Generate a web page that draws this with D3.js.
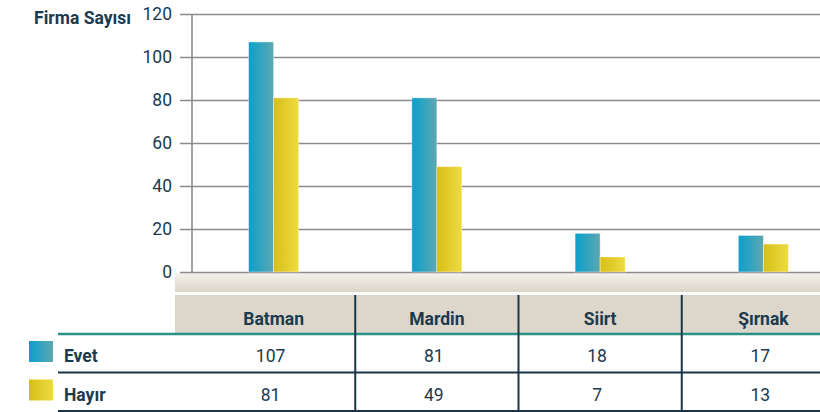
<!DOCTYPE html>
<html>
<head>
<meta charset="utf-8">
<script src="https://cdn.jsdelivr.net/npm/d3@7"></script>
<style>
  body { margin: 0; background: #fff; }
  svg text { font-family: Roboto, "Liberation Sans", sans-serif; fill: #1c3a4e; }
</style>
</head>
<body>
<svg id="chart" width="820" height="412"></svg>
<script>
// data
var categories = ["Batman", "Mardin", "Siirt", "Şırnak"];
var series = ["Evet", "Hayır"];
var evet = [107, 81, 18, 17];
var hayir = [81, 49, 7, 13];
var yTicks = [0, 20, 40, 60, 80, 100, 120];

var values = [evet, hayir];
var svg = d3.select("#chart");

// layout
var plotLeft = 192, plotRight = 845;
var y = d3.scaleLinear().domain([0, 120]).range([272, 14]);
var x0 = d3.scaleBand().domain(categories).range([plotLeft, plotRight]);
var x1 = d3.scaleBand().domain(series).range([0, x0.bandwidth()]).paddingInner(0).paddingOuter(2.26);

var defs = svg.append("defs");
function grad(id, c1, c2) {
  var g = defs.append("linearGradient").attr("id", id)
      .attr("x1", "0%").attr("x2", "100%").attr("y1", "0%").attr("y2", "0%");
  g.append("stop").attr("offset", "0%").attr("stop-color", c1);
  g.append("stop").attr("offset", "100%").attr("stop-color", c2);
}
grad("gEvet", "#0aa0cc", "#5ea7b2");
grad("gHayir", "#d6bf16", "#eedb42");
var floor = defs.append("linearGradient").attr("id", "gFloor")
    .attr("x1", "0%").attr("x2", "0%").attr("y1", "0%").attr("y2", "100%");
floor.append("stop").attr("offset", "0%").attr("stop-color", "#f4f2ec");
floor.append("stop").attr("offset", "100%").attr("stop-color", "#dcd5c9");
var fills = {"Evet": "url(#gEvet)", "Hayır": "url(#gHayir)"};

// floor under the plot
svg.append("rect")
    .attr("x", 175).attr("y", y(0) + 1)
    .attr("width", 820 - 175).attr("height", 19)
    .attr("fill", "url(#gFloor)");

// grid + ticks
var yAxis = d3.axisLeft(y).tickValues(yTicks).tickSize(-(plotRight - 180)).tickPadding(8);
var ax = svg.append("g")
    .attr("transform", "translate(180,0)")
    .call(yAxis);
ax.select(".domain").remove();
ax.selectAll(".tick line").attr("stroke", "#8c8c8c").attr("stroke-width", 1.6);
ax.selectAll(".tick text")
    .attr("font-size", 17.5)
    .style("font-family", "Roboto, sans-serif")
    .attr("fill", "#1c3a4e");

// vertical axis line
svg.append("line")
    .attr("x1", plotLeft).attr("x2", plotLeft)
    .attr("y1", y(120)).attr("y2", y(0))
    .attr("stroke", "#8c8c8c").attr("stroke-width", 1.6);

// axis title
svg.append("text")
    .attr("x", 131).attr("y", 24)
    .attr("text-anchor", "end")
    .attr("font-size", 17.5).attr("font-weight", "bold")
    .text("Firma Sayısı");

// bars
var groups = svg.append("g").selectAll("g")
    .data(categories)
    .join("g")
    .attr("transform", function(d) { return "translate(" + x0(d) + ",0)"; });

groups.selectAll("rect")
    .data(function(d, i) { return series.map(function(s, j) { return {s: s, v: values[j][i]}; }); })
    .join("rect")
    .attr("x", function(d) { return x1(d.s); })
    .attr("y", function(d) { return y(d.v); })
    .attr("width", x1.bandwidth())
    .attr("height", function(d) { return y(0) - y(d.v); })
    .attr("fill", function(d) { return fills[d.s]; })
    .attr("stroke", "rgba(255,255,255,0.5)")
    .attr("stroke-width", 0.8);

// data table
var headTop = 295, headBot = 333, rowH = 38.5;
svg.append("rect")
    .attr("x", 175).attr("y", headTop)
    .attr("width", 820 - 175).attr("height", headBot - headTop)
    .attr("fill", "#ddd6cb");

svg.append("g").selectAll("text")
    .data(categories)
    .join("text")
    .attr("x", function(d) { return x0(d) + x0.bandwidth() / 2; })
    .attr("y", 325)
    .attr("text-anchor", "middle")
    .attr("font-size", 17.5).attr("font-weight", "bold")
    .text(function(d) { return d; });

// teal line under header
svg.append("line")
    .attr("x1", 58).attr("x2", 820)
    .attr("y1", headBot + 1).attr("y2", headBot + 1)
    .attr("stroke", "#2a9284").attr("stroke-width", 2.4);

// row lines
[0, 1].forEach(function(j) {
  var yl = headBot + 1 + rowH * (j + 1);
  svg.append("line")
      .attr("x1", 58).attr("x2", 820)
      .attr("y1", yl).attr("y2", yl)
      .attr("stroke", "#183548").attr("stroke-width", 2.2);
});

// column dividers
svg.append("g").selectAll("line")
    .data(categories.slice(1))
    .join("line")
    .attr("x1", function(d) { return x0(d); })
    .attr("x2", function(d) { return x0(d); })
    .attr("y1", headTop).attr("y2", headBot + 1 + rowH * 2)
    .attr("stroke", "#183548").attr("stroke-width", 2);

// rows: swatch, label, values
series.forEach(function(s, j) {
  var top = headBot + 1 + rowH * j;
  svg.append("rect")
      .attr("x", 29).attr("y", top + 7)
      .attr("width", 24).attr("height", 21)
      .attr("fill", fills[s]);
  svg.append("text")
      .attr("x", 64).attr("y", top + 28)
      .attr("font-size", 17.5).attr("font-weight", "bold")
      .text(s);
  svg.append("g").selectAll("text")
      .data(values[j])
      .join("text")
      .attr("x", function(d, i) { return x0(categories[i]) + x0.bandwidth() / 2 - 3; })
      .attr("y", top + 28)
      .attr("text-anchor", "middle")
      .attr("font-size", 17.5)
      .text(function(d) { return d; });
});
</script>
</body>
</html>
